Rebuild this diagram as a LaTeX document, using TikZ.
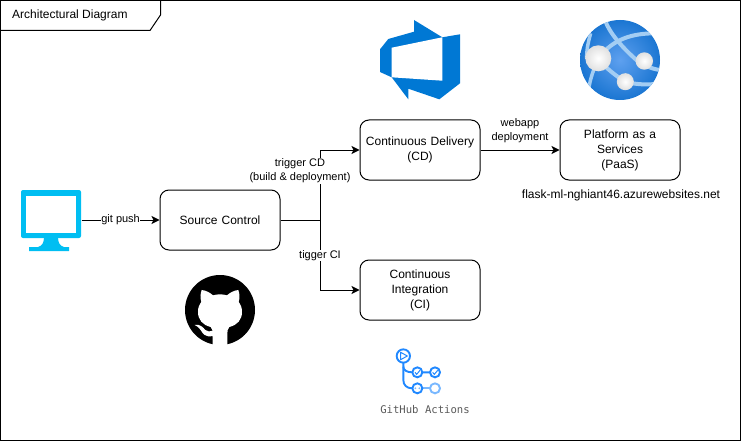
\documentclass[tikz,border=0pt]{standalone}
\usepackage{fontspec}
\setmainfont{Liberation Sans}
\newfontfamily\actionsfont{DejaVu Sans Mono}
\usetikzlibrary{arrows.meta}
\definecolor{monitorblue}{HTML}{00BEF2}
\definecolor{devopsblue}{HTML}{0078D4}
\definecolor{actionblue}{HTML}{2088FF}
\definecolor{actionlight}{HTML}{79B8FF}
\definecolor{bandblue}{HTML}{A3CDF3}
\definecolor{globelight}{HTML}{5EA0EF}
\definecolor{globedark}{HTML}{1B76D2}
\tikzset{
  box/.style={draw,line width=1pt,rounded corners=9pt,minimum width=120pt,minimum height=60pt,align=center,font=\fontsize{12}{15}\selectfont,inner sep=2pt,text width=114pt},
  flow/.style={line width=1pt,-{Stealth[length=8pt,width=8pt,inset=2pt]}},
  edgelabel/.style={fill=white,inner sep=0.5pt,align=center,font=\fontsize{11}{14}\selectfont},
  plainlabel/.style={inner sep=0pt,align=center,font=\fontsize{11}{14}\selectfont},
  actioncircle/.style={draw=actionblue,line width=1.9pt,fill=white},
  knob/.style={inner color=white,outer color=black!12}
}
\begin{document}
\begin{tikzpicture}[x=1pt,y=-1pt]
\useasboundingbox (0,0) rectangle (741,441);
% frame and title tab
\draw[line width=1pt] (0.5,0.5) rectangle (740.5,440.5);
\draw[line width=1pt] (160.5,0.5) -- (160.5,15) -- (150,30.5) -- (0.5,30.5);
\node[anchor=west,inner sep=0pt,font=\fontsize{12}{14}\selectfont](title) at (12,15) {Architectural Diagram};

% boxes
\node[box](source) at (220,220) {Source Control};
\node[box](cd) at (420,150) {Continuous Delivery\\(CD)};
\node[box](ci) at (420,290) {Continuous\\Integration\\(CI)};
\node[box](paas) at (620,150) {Platform as a\\Services\\(PaaS)};
\node[inner sep=0pt,font=\fontsize{12}{14}\selectfont](url) at (621,195) {flask-ml-nghiant46.azurewebsites.net};

% monitor
\node[minimum width=61pt,minimum height=61pt,inner sep=0pt](pc) at (51,220) {};
\fill[monitorblue,rounded corners=2pt] (21,190) rectangle (81,238);
\fill[white] (26,196) rectangle (75.5,232.5);
\fill[monitorblue] (44,237) -- (58,237) .. controls (58,243) and (60,246) .. (64,247) -- (69,247) -- (69,251) -- (29,251) -- (29,247) -- (38,247) .. controls (42,246) and (44,243) .. (44,237) -- cycle;

% connectors
\coordinate (bus) at (320,220);
\draw[flow] (pc) -- node[edgelabel](push){git push} (source);
\draw[line width=1pt] (source) -- (bus);
\draw[flow] (bus) |- (cd);
\draw[flow] (bus) |- (ci);
\draw[flow] (cd) -- (paas);
\node[edgelabel](trigcd) at (300,171) {trigger CD\\(build \& deployment)};
\node[edgelabel](trigci) at (320,255.5) {tigger CI};
\node[plainlabel](webapp) at (520,131) {webapp\\deployment};

% azure devops logo
\fill[devopsblue] (414,20) -- (442.3,37.3) -- (460,34.3) -- (460,83.3) -- (439.3,99.3) -- (408.3,88.7) -- (408.3,99.3) -- (391.7,77.3) -- (380,72) -- (380,49.3) -- (388.3,39) -- (414,31.7) -- cycle;
\fill[white] (391.7,47.7) -- (442.3,37.3) -- (442.3,80.7) -- (391.7,77.3) -- cycle;

% web app globe
\begin{scope}
\clip (620,60) circle (40);
\shade[inner color=globelight,outer color=globedark] (620,60) circle (40);
\begin{scope}[shift={(560,5)},x=0.3333pt,y=-0.3333pt]
\draw[bandblue,line width=4pt] (135,45) .. controls (150,90) and (200,140) .. (235,170) .. controls (260,185) and (285,195) .. (305,195);
\draw[bandblue,line width=4pt] (285,85) .. controls (220,85) and (160,100) .. (115,160);
\draw[bandblue,line width=3.5pt] (92,85) .. controls (85,110) and (80,130) .. (80,160);
\draw[bandblue,line width=3.5pt] (105,185) .. controls (95,210) and (85,240) .. (85,275);
\draw[bandblue,line width=4pt] (115,165) .. controls (140,190) and (170,215) .. (196,230) .. controls (230,240) and (270,240) .. (300,235);
\end{scope}
\end{scope}
\shade[knob] (598.3,58.3) circle (13);
\shade[knob] (644.3,61) circle (8.7);
\shade[knob] (625.3,81.7) circle (8.5);

% github logo
\fill[black] (220,310) circle (35);
\begin{scope}[shift={(170,265)},x=0.3333pt,y=-0.3333pt]
\fill[white] (128,245) -- (128,213) .. controls (105,218) and (98,205) .. (92,195) .. controls (87,187) and (80,183) .. (74,180) .. controls (90,176) and (100,188) .. (106,195) .. controls (112,201) and (122,200) .. (128,197) .. controls (126,191) and (125,189) .. (122,186) .. controls (98,180) and (84,165) .. (84,140) .. controls (84,128) and (88,118) .. (94,110) .. controls (90,100) and (91,86) .. (95,75) .. controls (108,76) and (120,83) .. (129,91) .. controls (143,87) and (157,87) .. (171,91) .. controls (180,83) and (192,76) .. (205,75) .. controls (209,86) and (210,100) .. (206,110) .. controls (212,118) and (216,128) .. (216,140) .. controls (216,165) and (202,180) .. (178,186) .. controls (173,192) and (172,198) .. (172,205) -- (172,245) -- cycle;
\end{scope}

% github actions logo
\begin{scope}[shift={(370,340)},x=0.3333pt,y=-0.3333pt]
\draw[actionblue,line width=1.9pt] (100,68) -- (100,120) .. controls (100,135) and (110,145) .. (127,145);
\draw[actionblue,line width=1.9pt] (100,80) .. controls (100,90) and (110,97) .. (127,97) -- (180,97);
\draw[actionlight,line width=1.9pt] (157,145) -- (180,145);
\draw[actioncircle] (100,48) circle (20);
\draw[actioncircle] (142,97) circle (15);
\draw[actioncircle] (195,97) circle (15);
\draw[actioncircle] (142,145) circle (15);
\draw[actioncircle,draw=actionlight] (195,145) circle (15);
\draw[actionblue,line width=1pt,line join=round] (92,37) -- (112,48) -- (92,59) -- cycle;
\draw[actionblue,line width=1pt] (135,97) -- (140,103) -- (150,91);
\draw[actionblue,line width=1pt] (188,97) -- (193,103) -- (203,91);
\fill[actionlight] (136,145) circle (3);
\fill[actionlight] (148,145) circle (3);
\end{scope}
\node[inner sep=0pt,text=black!65,font=\actionsfont\fontsize{10.6}{12}\selectfont](actions) at (425,410) {GitHub Actions};
\end{tikzpicture}
\end{document}
